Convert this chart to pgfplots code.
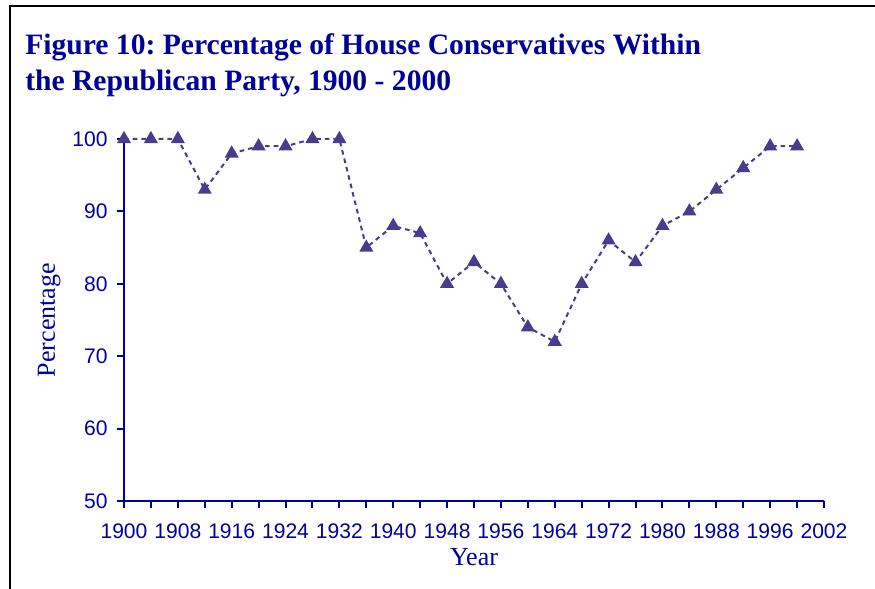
\documentclass[border=0pt]{standalone}
\usepackage{fontspec}
\setmainfont{Liberation Serif}
\setsansfont{Liberation Sans}
\usepackage{pgfplots}
\pgfplotsset{compat=1.18}
\definecolor{axblue}{HTML}{0000A0}
\definecolor{titleblue}{HTML}{000099}
\definecolor{series}{HTML}{483C8C}
\begin{document}
\frenchspacing
\begin{tikzpicture}
\path[use as bounding box] (0,0) rectangle (656.25pt,441.75pt);
\draw[line width=1.6pt, black] (7.8pt,-2pt) -- (7.8pt,437.25pt) -- (660pt,437.25pt);
\node[anchor=base west, inner sep=0pt, font=\bfseries\fontsize{22.2}{26}\selectfont, text=titleblue] at (18.75pt,400.5pt) {Figure 10: Percentage of House Conservatives Within};
\node[anchor=base west, inner sep=0pt, font=\bfseries\fontsize{22.2}{26}\selectfont, text=titleblue] at (18.75pt,373.5pt) {the Republican Party, 1900 - 2000};
\begin{axis}[
  at={(93pt,66pt)}, anchor=south west,
  width=525pt, height=271.5pt, scale only axis,
  xmin=0, xmax=26, ymin=50, ymax=100,
  axis lines=left,
  axis line style={-, line width=1.5pt, axblue},
  tick style={axblue, line width=1.5pt},
  tick align=outside,
  major tick length=5pt, minor tick length=5pt,
  xtick={0,2,...,26},
  xticklabels={1900,1908,1916,1924,1932,1940,1948,1956,1964,1972,1980,1988,1996,2002},
  minor xtick={1,3,...,25},
  ytick={50,60,...,100},
  /pgf/number format/assume math mode=true,
  tick label style={font=\sffamily\fontsize{15.8}{16}\selectfont, text=axblue},
  xticklabel style={yshift=-8.25pt},
  yticklabel style={xshift=-3.75pt},
  xlabel={Year}, ylabel={Percentage},
  label style={font=\fontsize{19.5}{20}\selectfont, text=axblue},
  xlabel style={at={(axis description cs:0.5,-0.155)}, anchor=center},
  ylabel style={at={(axis description cs:-0.107,0.5)}, anchor=center},
  clip=false,
]
\addplot[series, line width=1.5pt, dash pattern=on 3.5pt off 3pt, mark=triangle*, mark size=4.6pt, mark options={solid}] coordinates {
(0,100)(1,100)(2,100)(3,93)(4,98)(5,99)(6,99)(7,100)(8,100)(9,85)
(10,88)(11,87)(12,80)(13,83)(14,80)(15,74)(16,72)(17,80)(18,86)(19,83)
(20,88)(21,90)(22,93)(23,96)(24,99)(25,99)
};
\end{axis}
\end{tikzpicture}
\end{document}
